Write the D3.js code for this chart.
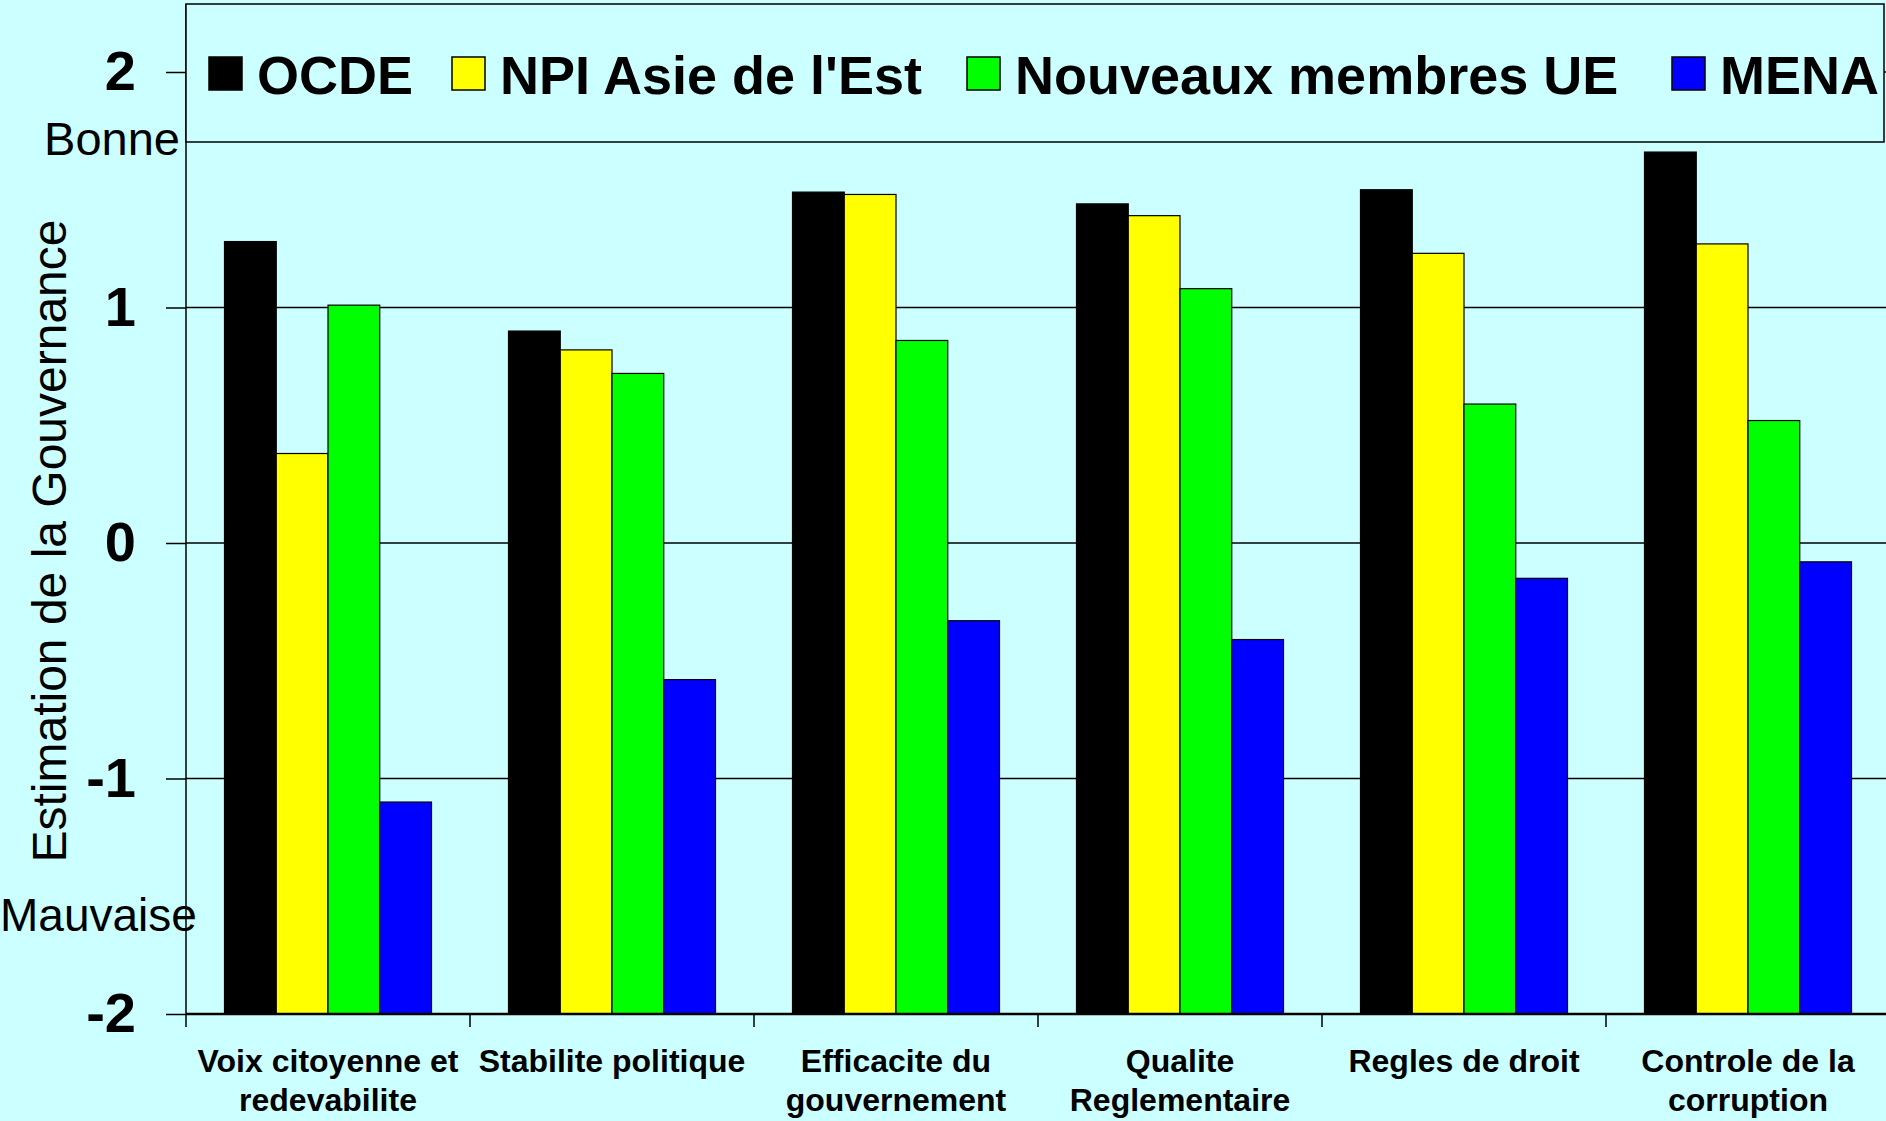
<!DOCTYPE html>
<html>
<head>
<meta charset="utf-8">
<script src="https://cdn.jsdelivr.net/npm/d3@7"></script>
<style>
  body { margin: 0; background: #ccffff; }
  svg { display: block; font-family: "Liberation Sans", Arial, sans-serif; }
</style>
</head>
<body>
<svg id="chart" width="1886" height="1121"></svg>
<script>
// categories (two-line labels) and series values
const categories = ["Voix citoyenne et|redevabilite", "Stabilite politique", "Efficacite du|gouvernement",
                    "Qualite|Reglementaire", "Regles de droit", "Controle de la|corruption"];
const seriesNames = ["OCDE", "NPI Asie de l'Est", "Nouveaux membres UE", "MENA"];
const seriesColors = ["#000000", "#ffff00", "#00ff00", "#0000ff"];
const ocde   = [1.28, 0.90, 1.49, 1.44, 1.50, 1.66];
const npi    = [0.38, 0.82, 1.48, 1.39, 1.23, 1.27];
const newEU  = [1.01, 0.72, 0.86, 1.08, 0.59, 0.52];
const mena   = [-1.10, -0.58, -0.33, -0.41, -0.15, -0.08];
const yTicks = [-2, -1, 0, 1, 2];

const seriesValues = [ocde, npi, newEU, mena];
const data = categories.map((c, i) => ({
  cat: c,
  vals: seriesNames.map((s, j) => ({ series: s, value: seriesValues[j][i], color: seriesColors[j] }))
}));

const svg = d3.select("#chart");
const plotLeft = 186, plotBottom = 1014, plotTop = 4, plotRight = 1890;

const x0 = d3.scaleBand().domain(categories).range([plotLeft, plotRight]);
const x1 = d3.scaleBand().domain(seriesNames).range([38.5, x0.bandwidth() - 38.5]);
const y = d3.scaleLinear().domain([-2, 2]).range([plotBottom, 72]);

// gridlines
svg.append("g").selectAll("line").data(yTicks.filter(t => t > -2)).join("line")
  .attr("x1", plotLeft).attr("x2", 1886)
  .attr("y1", d => y(d)).attr("y2", d => y(d))
  .attr("stroke", "#000").attr("stroke-width", 1.5);

// bars
const groups = svg.append("g").selectAll("g").data(data).join("g")
  .attr("transform", d => `translate(${x0(d.cat)},0)`);
groups.selectAll("rect").data(d => d.vals).join("rect")
  .attr("x", d => x1(d.series))
  .attr("width", x1.bandwidth())
  .attr("y", d => y(d.value))
  .attr("height", d => plotBottom - y(d.value))
  .attr("fill", d => d.color)
  .attr("stroke", "#000").attr("stroke-width", 1.2);

// y axis
const yAxis = svg.append("g").attr("transform", `translate(${plotLeft},0)`)
  .call(d3.axisLeft(y).tickValues(yTicks).tickSize(20).tickPadding(30).tickFormat(d3.format("d")));
yAxis.select(".domain").remove();
yAxis.selectAll("line").attr("stroke", "#000").attr("stroke-width", 1.5);
yAxis.selectAll("text")
  .attr("font-size", 56).attr("font-weight", "bold").attr("fill", "#000")
  .attr("font-family", "'Liberation Sans', Arial, sans-serif")
  .text(d => d < 0 ? "-" + Math.abs(d) : d);
svg.append("line").attr("x1", plotLeft).attr("x2", plotLeft).attr("y1", plotTop).attr("y2", plotBottom)
  .attr("stroke", "#000").attr("stroke-width", 1.5);

// x axis line + category ticks
svg.append("line").attr("x1", plotLeft).attr("x2", 1886).attr("y1", plotBottom).attr("y2", plotBottom)
  .attr("stroke", "#000").attr("stroke-width", 2.5);
svg.append("g").selectAll("line").data(categories).join("line")
  .attr("x1", d => x0(d)).attr("x2", d => x0(d))
  .attr("y1", plotBottom).attr("y2", plotBottom + 13)
  .attr("stroke", "#000").attr("stroke-width", 1.5);

// category labels
const catLabels = svg.append("g").selectAll("text").data(categories).join("text")
  .attr("x", d => x0(d) + x0.bandwidth() / 2)
  .attr("y", 1072)
  .attr("text-anchor", "middle")
  .attr("font-size", 32).attr("font-weight", "bold").attr("fill", "#000");
catLabels.each(function(d) {
  const el = d3.select(this);
  d.split("|").forEach((line, i) => {
    el.append("tspan").attr("x", x0(d) + x0.bandwidth() / 2).attr("dy", i === 0 ? 0 : 39).text(line);
  });
});

// axis title + qualitative labels
svg.append("text")
  .attr("transform", `translate(66,541) rotate(-90)`)
  .attr("text-anchor", "middle")
  .attr("font-size", 48).attr("fill", "#000")
  .text("Estimation de la Gouvernance");
svg.append("text").attr("x", 180).attr("y", 155).attr("text-anchor", "end")
  .attr("font-size", 47).attr("fill", "#000").text("Bonne");
svg.append("text").attr("x", 0).attr("y", 931)
  .attr("font-size", 46).attr("fill", "#000").text("Mauvaise");

// legend
svg.append("rect").attr("x", plotLeft).attr("y", plotTop).attr("width", 1884 - plotLeft).attr("height", 142 - plotTop)
  .attr("fill", "#ccffff").attr("stroke", "#000").attr("stroke-width", 1.5);
const legendX = [209, 452, 967, 1672];
seriesNames.forEach((s, i) => {
  const lx = legendX[i];
  svg.append("rect").attr("x", lx).attr("y", 57).attr("width", 33).attr("height", 33)
    .attr("fill", seriesColors[i]).attr("stroke", "#000").attr("stroke-width", 1.5);
  svg.append("text").attr("x", lx + 48).attr("y", 94)
    .attr("font-size", 54).attr("font-weight", "bold").attr("fill", "#000").text(s);
});
</script>
</body>
</html>
